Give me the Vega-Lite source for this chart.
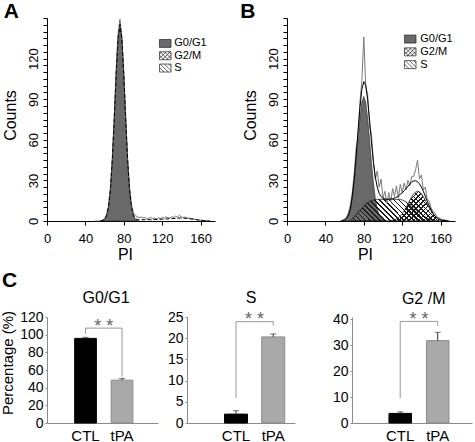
{
"$schema":"https://vega.github.io/schema/vega-lite/v6.json",
"autosize":{"type":"pad"},
"padding":{"left":0,"top":0,"right":2,"bottom":0},
"config":{"font":"Liberation Sans","view":{"stroke":null},
 "axis":{"grid":false,"labelColor":"#000","titleColor":"#000","titleFontWeight":"normal","domainColor":"#000","tickColor":"#000","labelOverlap":false,"labelSeparation":-500},
 "legend":{"labelFont":"Liberation Sans"}},
"datasets":{
"aRaw":[{"x":50,"c":0},{"x":52,"c":0},{"x":54,"c":0},{"x":56,"c":0.3},{"x":58,"c":0.8},{"x":60,"c":1.8},{"x":62,"c":4.5},{"x":64,"c":11},{"x":66,"c":24},{"x":68,"c":46},{"x":70,"c":76},{"x":72,"c":111},{"x":74,"c":138},{"x":76,"c":149},{"x":78,"c":136},{"x":80,"c":110},{"x":82,"c":77},{"x":84,"c":46},{"x":86,"c":25},{"x":88,"c":12},{"x":90,"c":6},{"x":92,"c":4},{"x":94,"c":3.2},{"x":96,"c":2.5},{"x":98,"c":3},{"x":100,"c":2.2},{"x":102,"c":2.6},{"x":104,"c":1.6},{"x":106,"c":2.1},{"x":108,"c":2.7},{"x":110,"c":1.8},{"x":112,"c":2.2},{"x":114,"c":1.5},{"x":116,"c":2.3},{"x":118,"c":1.8},{"x":120,"c":2.6},{"x":122,"c":2.1},{"x":124,"c":3.1},{"x":126,"c":2.4},{"x":128,"c":2.2},{"x":130,"c":3.2},{"x":132,"c":2.6},{"x":134,"c":3.6},{"x":136,"c":2.8},{"x":138,"c":4.2},{"x":140,"c":3.1},{"x":142,"c":2.6},{"x":144,"c":2.9},{"x":146,"c":2.1},{"x":148,"c":2.3},{"x":150,"c":1.6},{"x":152,"c":1.9},{"x":154,"c":1.2},{"x":156,"c":1},{"x":158,"c":0.8},{"x":160,"c":0.6},{"x":162,"c":0.5},{"x":164,"c":0.3},{"x":166,"c":0.2},{"x":168,"c":0}],
"aG1":[{"x":56,"c":0},{"x":58,"c":0.4},{"x":60,"c":1.3},{"x":62,"c":3.9},{"x":64,"c":10.1},{"x":66,"c":22.8},{"x":68,"c":44.4},{"x":70,"c":74.5},{"x":72,"c":107.8},{"x":74,"c":134.7},{"x":76,"c":145},{"x":78,"c":134.7},{"x":80,"c":107.8},{"x":82,"c":74.5},{"x":84,"c":44.4},{"x":86,"c":22.8},{"x":88,"c":10.1},{"x":90,"c":3.9},{"x":92,"c":1.3},{"x":94,"c":0.4},{"x":96,"c":0}],
"aFit":[{"x":56,"c":0},{"x":58,"c":0.4},{"x":60,"c":1.3},{"x":62,"c":3.9},{"x":64,"c":10.1},{"x":66,"c":22.8},{"x":68,"c":44.5},{"x":70,"c":74.6},{"x":72,"c":108},{"x":74,"c":135},{"x":76,"c":145.3},{"x":78,"c":135},{"x":80,"c":108.1},{"x":82,"c":74.8},{"x":84,"c":44.7},{"x":86,"c":23.1},{"x":88,"c":10.5},{"x":90,"c":4.4},{"x":92,"c":1.9},{"x":94,"c":1.1},{"x":96,"c":0.9},{"x":100,"c":0.9},{"x":110,"c":1.0},{"x":120,"c":1.3},{"x":130,"c":1.8},{"x":136,"c":2.1},{"x":140,"c":2.2},{"x":146,"c":1.9},{"x":150,"c":1.5},{"x":156,"c":0.9},{"x":160,"c":0.5},{"x":166,"c":0.1},{"x":170,"c":0}],
"bRaw":[{"x":56,"c":0},{"x":58,"c":0.6},{"x":60,"c":1.5},{"x":62,"c":3},{"x":64,"c":6},{"x":66,"c":12},{"x":68,"c":21},{"x":70,"c":35},{"x":72,"c":54},{"x":74,"c":62},{"x":76,"c":88},{"x":78,"c":104},{"x":80,"c":136},{"x":82,"c":99},{"x":84,"c":94},{"x":86,"c":70},{"x":88,"c":64},{"x":90,"c":44},{"x":92,"c":31},{"x":94,"c":37},{"x":96,"c":25},{"x":98,"c":31},{"x":100,"c":17},{"x":102,"c":22},{"x":104,"c":13},{"x":106,"c":21},{"x":108,"c":14},{"x":110,"c":24},{"x":112,"c":18},{"x":114,"c":26},{"x":116,"c":17},{"x":118,"c":27},{"x":120,"c":21},{"x":122,"c":28},{"x":124,"c":23},{"x":126,"c":30},{"x":128,"c":26},{"x":130,"c":33},{"x":132,"c":33},{"x":134,"c":38},{"x":136,"c":45},{"x":138,"c":31},{"x":140,"c":34},{"x":142,"c":23},{"x":144,"c":25},{"x":146,"c":16},{"x":148,"c":15},{"x":150,"c":10},{"x":152,"c":7},{"x":154,"c":6},{"x":156,"c":3},{"x":158,"c":2.5},{"x":160,"c":1.5},{"x":162,"c":1},{"x":164,"c":1},{"x":166,"c":0.5},{"x":168,"c":0.3},{"x":170,"c":0}],
"bG1":[{"x":56,"c":0},{"x":58,"c":0.3},{"x":60,"c":0.8},{"x":62,"c":2.0},{"x":64,"c":4.4},{"x":66,"c":9.0},{"x":68,"c":16.7},{"x":70,"c":28.2},{"x":72,"c":43.2},{"x":74,"c":60.1},{"x":76,"c":76.1},{"x":78,"c":87.8},{"x":80,"c":92},{"x":82,"c":87.8},{"x":84,"c":76.1},{"x":86,"c":60.1},{"x":88,"c":43.2},{"x":90,"c":28.2},{"x":92,"c":16.7},{"x":94,"c":9.0},{"x":96,"c":4.4},{"x":98,"c":2.0},{"x":100,"c":0.8},{"x":102,"c":0.3},{"x":104,"c":0}],
"bS":[{"x":66,"c":0},{"x":68,"c":1.5},{"x":70,"c":3},{"x":72,"c":4.8},{"x":74,"c":6.5},{"x":76,"c":8},{"x":78,"c":9.5},{"x":80,"c":11},{"x":82,"c":12.5},{"x":84,"c":13.5},{"x":86,"c":14.5},{"x":88,"c":15},{"x":90,"c":15.5},{"x":92,"c":15.8},{"x":94,"c":16},{"x":118,"c":16},{"x":120,"c":15.5},{"x":122,"c":15},{"x":124,"c":14},{"x":126,"c":13},{"x":128,"c":12},{"x":130,"c":11},{"x":132,"c":9.5},{"x":134,"c":8.2},{"x":136,"c":7},{"x":138,"c":6},{"x":140,"c":5},{"x":142,"c":4},{"x":144,"c":3},{"x":146,"c":2.2},{"x":148,"c":1.5},{"x":150,"c":1},{"x":152,"c":0.5},{"x":154,"c":0.2},{"x":156,"c":0}],
"bG2":[{"x":106,"c":0},{"x":108,"c":0.3},{"x":110,"c":0.5},{"x":112,"c":0.9},{"x":114,"c":1.5},{"x":116,"c":2.4},{"x":118,"c":3.7},{"x":120,"c":5.3},{"x":122,"c":7.4},{"x":124,"c":9.9},{"x":126,"c":12.6},{"x":128,"c":15.4},{"x":130,"c":18.0},{"x":132,"c":20.1},{"x":134,"c":21.5},{"x":136,"c":22},{"x":138,"c":21.5},{"x":140,"c":20.1},{"x":142,"c":18.0},{"x":144,"c":15.4},{"x":146,"c":12.6},{"x":148,"c":9.9},{"x":150,"c":7.4},{"x":152,"c":5.3},{"x":154,"c":3.7},{"x":156,"c":2.4},{"x":158,"c":1.5},{"x":160,"c":0.9},{"x":162,"c":0.5},{"x":164,"c":0.3},{"x":166,"c":0}],
"bFit":[{"x":56,"c":0},{"x":58,"c":0.3},{"x":60,"c":0.8},{"x":62,"c":2.0},{"x":64,"c":4.4},{"x":66,"c":9.0},{"x":68,"c":18.2},{"x":70,"c":31.2},{"x":72,"c":48.0},{"x":74,"c":66.6},{"x":76,"c":84.1},{"x":78,"c":97.3},{"x":80,"c":103},{"x":82,"c":100.3},{"x":84,"c":89.6},{"x":86,"c":74.6},{"x":88,"c":58.2},{"x":90,"c":43.7},{"x":92,"c":32.5},{"x":94,"c":25.0},{"x":96,"c":20.4},{"x":98,"c":18.0},{"x":100,"c":16.8},{"x":102,"c":16.3},{"x":104,"c":16},{"x":106,"c":16.2},{"x":108,"c":16.3},{"x":110,"c":16.5},{"x":112,"c":16.9},{"x":114,"c":17.5},{"x":116,"c":18.4},{"x":118,"c":19.7},{"x":120,"c":20.8},{"x":122,"c":22.4},{"x":124,"c":23.9},{"x":126,"c":25.6},{"x":128,"c":27.4},{"x":130,"c":29.0},{"x":132,"c":29.6},{"x":134,"c":29.7},{"x":136,"c":29},{"x":138,"c":27.5},{"x":140,"c":25.1},{"x":142,"c":22},{"x":144,"c":18.4},{"x":146,"c":14.8},{"x":148,"c":11.4},{"x":150,"c":8.4},{"x":152,"c":5.8},{"x":154,"c":3.9},{"x":156,"c":2.4},{"x":158,"c":1.5},{"x":160,"c":0.9},{"x":162,"c":0.5},{"x":164,"c":0.3},{"x":166,"c":0.15},{"x":168,"c":0}],
"phases":[{"phase":"G0/G1"},{"phase":"G2/M"},{"phase":"S"}],
"bars":[{"panel":"G0/G1","group":"CTL","value":95.8,"hi":97.0},{"panel":"G0/G1","group":"tPA","value":48.5,"hi":50.3},{"panel":"S","group":"CTL","value":2.1,"hi":2.9},{"panel":"S","group":"tPA","value":20.3,"hi":21.0},{"panel":"G2/M","group":"CTL","value":3.7,"hi":4.3},{"panel":"G2/M","group":"tPA","value":31.7,"hi":34.9}],
"brackets":[{"panel":"G0/G1","group":"CTL","y":100.8,"ord":1},{"panel":"G0/G1","group":"CTL","y":107.4,"ord":2},{"panel":"G0/G1","group":"tPA","y":107.4,"ord":3},{"panel":"G0/G1","group":"tPA","y":52.4,"ord":4},{"panel":"S","group":"CTL","y":5.9,"ord":1},{"panel":"S","group":"CTL","y":23.9,"ord":2},{"panel":"S","group":"tPA","y":23.9,"ord":3},{"panel":"S","group":"tPA","y":23.0,"ord":4},{"panel":"G2/M","group":"CTL","y":9.6,"ord":1},{"panel":"G2/M","group":"CTL","y":39.1,"ord":2},{"panel":"G2/M","group":"tPA","y":39.1,"ord":3},{"panel":"G2/M","group":"tPA","y":37.5,"ord":4}],
"stars":[{"panel":"G0/G1","group":"CTL","y":107.4,"t":"* *"},{"panel":"S","group":"CTL","y":23.9,"t":"* *"},{"panel":"G2/M","group":"CTL","y":39.1,"t":"* *"}]
},
"spacing":8,
"resolve":{"scale":{"fill":"independent","shape":"independent","stroke":"independent"}},
"vconcat":[
{"hconcat":[
 {"width":168,"height":203,
  "title":{"text":"A","anchor":"start","frame":"group","fontSize":21,"fontWeight":"bold","dx":-43.3,"offset":-21,"baseline":"alphabetic","color":"#000"},
  "layer":[
   {"data":{"name":"aG1"},"mark":{"type":"area","fill":"#696969","stroke":"#222","strokeWidth":0.6},
    "encoding":{
     "x":{"field":"x","type":"quantitative","scale":{"domain":[0,175],"nice":false,"zero":false},
      "axis":{"values":[0,10,20,30,40,50,60,70,80,90,100,110,120,130,140,150,160,170],"labelExpr":"datum.value % 40 === 0 ? datum.label : ''","labelOverlap":false,"labelFlush":false,"ticks":true,"tickSize":4,"tickWidth":1,"tickColor":"#000","labelPadding":7,"labelFontSize":13,"title":"PI","titleFontSize":16,"titleX":78,"titleY":38,"titleBaseline":"alphabetic","titleAlign":"center"}},
     "y":{"field":"c","type":"quantitative","scale":{"domain":[0,150],"nice":false},
      "axis":{"tickCount":30,"labelExpr":"datum.value % 30 === 0 && datum.value < 150 ? datum.label : ''","labelOverlap":false,"labelFlush":false,"labelAngle":-90,"labelAlign":"center","labelBaseline":"alphabetic","labelPadding":6,"labelFontSize":13,"ticks":true,"tickSize":4,"tickWidth":1,"tickColor":"#000","title":"Counts","titleFontSize":16,"titleX":-32,"titleY":97,"titleBaseline":"alphabetic","titleAlign":"center","titleAngle":-90}}}},
   {"data":{"name":"aRaw"},"mark":{"type":"line","color":"#505050","strokeWidth":0.8},"encoding":{"x":{"field":"x","type":"quantitative"},"y":{"field":"c","type":"quantitative"}}},
   {"data":{"name":"aFit"},"mark":{"type":"line","color":"#000","strokeWidth":1,"strokeDash":[4,2]},"encoding":{"x":{"field":"x","type":"quantitative"},"y":{"field":"c","type":"quantitative"}}},
   {"data":{"name":"phases"},"mark":{"type":"point","filled":true,"opacity":0},
    "encoding":{
     "fill":{"field":"phase","type":"nominal","scale":{"domain":["G0/G1","G2/M","S"],"range":["#696969","#ffffff","#ffffff"]},
      "legend":{"title":null,"orient":"none","legendX":112.25,"legendY":19.45,"symbolSize":110,"symbolStrokeWidth":0.7,"symbolOpacity":1,"labelFontSize":11,"labelOffset":3,"rowPadding":0.3,"padding":0,"labelColor":"#000","labelLimit":0}},
     "stroke":{"field":"phase","type":"nominal","scale":{"domain":["G0/G1","G2/M","S"],"range":["#222222","#222222","#222222"]},
      "legend":{"title":null,"orient":"none","legendX":112.25,"legendY":19.45,"symbolSize":110,"symbolStrokeWidth":0.7,"symbolOpacity":1,"labelFontSize":11,"labelOffset":3,"rowPadding":0.3,"padding":0,"labelColor":"#000","labelLimit":0}},
     "shape":{"field":"phase","type":"nominal","scale":{"domain":["G0/G1","G2/M","S"],"range":["M-1.1,-0.76L1.1,-0.76L1.1,0.76L-1.1,0.76Z","M-1.1,-0.76L1.1,-0.76L1.1,0.76L-1.1,0.76Z M-1.1,-0.11L-0.23,0.76 M-0.95,-0.76L0.57,0.76 M-0.15,-0.76L1.1,0.49 M0.65,-0.76L1.1,-0.31 M1.1,-0.11L0.23,0.76 M0.95,-0.76L-0.57,0.76 M0.15,-0.76L-1.1,0.49 M-0.65,-0.76L-1.1,-0.31","M-1.1,-0.76L1.1,-0.76L1.1,0.76L-1.1,0.76Z M-1.1,-0.11L-0.23,0.76 M-0.95,-0.76L0.57,0.76 M-0.15,-0.76L1.1,0.49 M0.65,-0.76L1.1,-0.31"]},
      "legend":{"title":null,"orient":"none","legendX":112.25,"legendY":19.45,"symbolSize":110,"symbolStrokeWidth":0.7,"symbolOpacity":1,"labelFontSize":11,"labelOffset":3,"rowPadding":0.3,"padding":0,"labelColor":"#000","labelLimit":0}}}}
  ]},
 {"width":168,"height":203,
  "title":{"text":"B","anchor":"start","frame":"group","fontSize":21,"fontWeight":"bold","dx":-46.7,"offset":-21,"baseline":"alphabetic","color":"#000"},
  "layer":[
   {"data":{"name":"bG1"},"mark":{"type":"area","fill":"#696969","stroke":"#222","strokeWidth":0.6},
    "encoding":{
     "x":{"field":"x","type":"quantitative","scale":{"domain":[0,175],"nice":false,"zero":false},
      "axis":{"values":[0,10,20,30,40,50,60,70,80,90,100,110,120,130,140,150,160,170],"labelExpr":"datum.value % 40 === 0 ? datum.label : ''","labelOverlap":false,"labelFlush":false,"ticks":true,"tickSize":4,"tickWidth":1,"tickColor":"#000","labelPadding":7,"labelFontSize":13,"title":"PI","titleFontSize":16,"titleX":78,"titleY":38,"titleBaseline":"alphabetic","titleAlign":"center"}},
     "y":{"field":"c","type":"quantitative","scale":{"domain":[0,150],"nice":false},
      "axis":{"tickCount":30,"labelExpr":"datum.value % 30 === 0 && datum.value < 150 ? datum.label : ''","labelOverlap":false,"labelFlush":false,"labelAngle":-90,"labelAlign":"center","labelBaseline":"alphabetic","labelPadding":6,"labelFontSize":13,"ticks":true,"tickSize":4,"tickWidth":1,"tickColor":"#000","title":"Counts","titleFontSize":16,"titleX":-32,"titleY":97,"titleBaseline":"alphabetic","titleAlign":"center","titleAngle":-90}}}},
   {"data":{"name":"bS"},"mark":{"type":"area","stroke":"#111","strokeWidth":0.7,"fill":{"gradient":"linear","x1":0,"y1":1,"x2":1.1765,"y2":0.7059,"stops":[
{"offset":0,"color":"#1a1a1a"},{"offset":0.015,"color":"#1a1a1a"},{"offset":0.015,"color":"rgba(0,0,0,0)"},{"offset":0.0455,"color":"rgba(0,0,0,0)"},
{"offset":0.0455,"color":"#1a1a1a"},{"offset":0.0605,"color":"#1a1a1a"},{"offset":0.0605,"color":"rgba(0,0,0,0)"},{"offset":0.0909,"color":"rgba(0,0,0,0)"},
{"offset":0.0909,"color":"#1a1a1a"},{"offset":0.1059,"color":"#1a1a1a"},{"offset":0.1059,"color":"rgba(0,0,0,0)"},{"offset":0.1364,"color":"rgba(0,0,0,0)"},
{"offset":0.1364,"color":"#1a1a1a"},{"offset":0.1514,"color":"#1a1a1a"},{"offset":0.1514,"color":"rgba(0,0,0,0)"},{"offset":0.1818,"color":"rgba(0,0,0,0)"},
{"offset":0.1818,"color":"#1a1a1a"},{"offset":0.1968,"color":"#1a1a1a"},{"offset":0.1968,"color":"rgba(0,0,0,0)"},{"offset":0.2273,"color":"rgba(0,0,0,0)"},
{"offset":0.2273,"color":"#1a1a1a"},{"offset":0.2423,"color":"#1a1a1a"},{"offset":0.2423,"color":"rgba(0,0,0,0)"},{"offset":0.2727,"color":"rgba(0,0,0,0)"},
{"offset":0.2727,"color":"#1a1a1a"},{"offset":0.2877,"color":"#1a1a1a"},{"offset":0.2877,"color":"rgba(0,0,0,0)"},{"offset":0.3182,"color":"rgba(0,0,0,0)"},
{"offset":0.3182,"color":"#1a1a1a"},{"offset":0.3332,"color":"#1a1a1a"},{"offset":0.3332,"color":"rgba(0,0,0,0)"},{"offset":0.3636,"color":"rgba(0,0,0,0)"},
{"offset":0.3636,"color":"#1a1a1a"},{"offset":0.3786,"color":"#1a1a1a"},{"offset":0.3786,"color":"rgba(0,0,0,0)"},{"offset":0.4091,"color":"rgba(0,0,0,0)"},
{"offset":0.4091,"color":"#1a1a1a"},{"offset":0.4241,"color":"#1a1a1a"},{"offset":0.4241,"color":"rgba(0,0,0,0)"},{"offset":0.4545,"color":"rgba(0,0,0,0)"},
{"offset":0.4545,"color":"#1a1a1a"},{"offset":0.4695,"color":"#1a1a1a"},{"offset":0.4695,"color":"rgba(0,0,0,0)"},{"offset":0.5,"color":"rgba(0,0,0,0)"},
{"offset":0.5,"color":"#1a1a1a"},{"offset":0.515,"color":"#1a1a1a"},{"offset":0.515,"color":"rgba(0,0,0,0)"},{"offset":0.5455,"color":"rgba(0,0,0,0)"},
{"offset":0.5455,"color":"#1a1a1a"},{"offset":0.5605,"color":"#1a1a1a"},{"offset":0.5605,"color":"rgba(0,0,0,0)"},{"offset":0.5909,"color":"rgba(0,0,0,0)"},
{"offset":0.5909,"color":"#1a1a1a"},{"offset":0.6059,"color":"#1a1a1a"},{"offset":0.6059,"color":"rgba(0,0,0,0)"},{"offset":0.6364,"color":"rgba(0,0,0,0)"},
{"offset":0.6364,"color":"#1a1a1a"},{"offset":0.6514,"color":"#1a1a1a"},{"offset":0.6514,"color":"rgba(0,0,0,0)"},{"offset":0.6818,"color":"rgba(0,0,0,0)"},
{"offset":0.6818,"color":"#1a1a1a"},{"offset":0.6968,"color":"#1a1a1a"},{"offset":0.6968,"color":"rgba(0,0,0,0)"},{"offset":0.7273,"color":"rgba(0,0,0,0)"},
{"offset":0.7273,"color":"#1a1a1a"},{"offset":0.7423,"color":"#1a1a1a"},{"offset":0.7423,"color":"rgba(0,0,0,0)"},{"offset":0.7727,"color":"rgba(0,0,0,0)"},
{"offset":0.7727,"color":"#1a1a1a"},{"offset":0.7877,"color":"#1a1a1a"},{"offset":0.7877,"color":"rgba(0,0,0,0)"},{"offset":0.8182,"color":"rgba(0,0,0,0)"},
{"offset":0.8182,"color":"#1a1a1a"},{"offset":0.8332,"color":"#1a1a1a"},{"offset":0.8332,"color":"rgba(0,0,0,0)"},{"offset":0.8636,"color":"rgba(0,0,0,0)"},
{"offset":0.8636,"color":"#1a1a1a"},{"offset":0.8786,"color":"#1a1a1a"},{"offset":0.8786,"color":"rgba(0,0,0,0)"},{"offset":0.9091,"color":"rgba(0,0,0,0)"},
{"offset":0.9091,"color":"#1a1a1a"},{"offset":0.9241,"color":"#1a1a1a"},{"offset":0.9241,"color":"rgba(0,0,0,0)"},{"offset":0.9545,"color":"rgba(0,0,0,0)"},
{"offset":0.9545,"color":"#1a1a1a"},{"offset":0.9695,"color":"#1a1a1a"},{"offset":0.9695,"color":"rgba(0,0,0,0)"},{"offset":1,"color":"rgba(0,0,0,0)"}]}},
    "encoding":{"x":{"field":"x","type":"quantitative"},"y":{"field":"c","type":"quantitative"}}},
   {"data":{"name":"bG2"},"mark":{"type":"area","stroke":"#111","strokeWidth":0.7,"fill":{"gradient":"linear","x1":0,"y1":1,"x2":1.1975,"y2":0.382,"stops":[
{"offset":0,"color":"#1a1a1a"},{"offset":0.018,"color":"#1a1a1a"},{"offset":0.018,"color":"rgba(0,0,0,0)"},{"offset":0.0556,"color":"rgba(0,0,0,0)"},
{"offset":0.0556,"color":"#1a1a1a"},{"offset":0.0736,"color":"#1a1a1a"},{"offset":0.0736,"color":"rgba(0,0,0,0)"},{"offset":0.1111,"color":"rgba(0,0,0,0)"},
{"offset":0.1111,"color":"#1a1a1a"},{"offset":0.1291,"color":"#1a1a1a"},{"offset":0.1291,"color":"rgba(0,0,0,0)"},{"offset":0.1667,"color":"rgba(0,0,0,0)"},
{"offset":0.1667,"color":"#1a1a1a"},{"offset":0.1847,"color":"#1a1a1a"},{"offset":0.1847,"color":"rgba(0,0,0,0)"},{"offset":0.2222,"color":"rgba(0,0,0,0)"},
{"offset":0.2222,"color":"#1a1a1a"},{"offset":0.2402,"color":"#1a1a1a"},{"offset":0.2402,"color":"rgba(0,0,0,0)"},{"offset":0.2778,"color":"rgba(0,0,0,0)"},
{"offset":0.2778,"color":"#1a1a1a"},{"offset":0.2958,"color":"#1a1a1a"},{"offset":0.2958,"color":"rgba(0,0,0,0)"},{"offset":0.3333,"color":"rgba(0,0,0,0)"},
{"offset":0.3333,"color":"#1a1a1a"},{"offset":0.3513,"color":"#1a1a1a"},{"offset":0.3513,"color":"rgba(0,0,0,0)"},{"offset":0.3889,"color":"rgba(0,0,0,0)"},
{"offset":0.3889,"color":"#1a1a1a"},{"offset":0.4069,"color":"#1a1a1a"},{"offset":0.4069,"color":"rgba(0,0,0,0)"},{"offset":0.4444,"color":"rgba(0,0,0,0)"},
{"offset":0.4444,"color":"#1a1a1a"},{"offset":0.4624,"color":"#1a1a1a"},{"offset":0.4624,"color":"rgba(0,0,0,0)"},{"offset":0.5,"color":"rgba(0,0,0,0)"},
{"offset":0.5,"color":"#1a1a1a"},{"offset":0.518,"color":"#1a1a1a"},{"offset":0.518,"color":"rgba(0,0,0,0)"},{"offset":0.5556,"color":"rgba(0,0,0,0)"},
{"offset":0.5556,"color":"#1a1a1a"},{"offset":0.5736,"color":"#1a1a1a"},{"offset":0.5736,"color":"rgba(0,0,0,0)"},{"offset":0.6111,"color":"rgba(0,0,0,0)"},
{"offset":0.6111,"color":"#1a1a1a"},{"offset":0.6291,"color":"#1a1a1a"},{"offset":0.6291,"color":"rgba(0,0,0,0)"},{"offset":0.6667,"color":"rgba(0,0,0,0)"},
{"offset":0.6667,"color":"#1a1a1a"},{"offset":0.6847,"color":"#1a1a1a"},{"offset":0.6847,"color":"rgba(0,0,0,0)"},{"offset":0.7222,"color":"rgba(0,0,0,0)"},
{"offset":0.7222,"color":"#1a1a1a"},{"offset":0.7402,"color":"#1a1a1a"},{"offset":0.7402,"color":"rgba(0,0,0,0)"},{"offset":0.7778,"color":"rgba(0,0,0,0)"},
{"offset":0.7778,"color":"#1a1a1a"},{"offset":0.7958,"color":"#1a1a1a"},{"offset":0.7958,"color":"rgba(0,0,0,0)"},{"offset":0.8333,"color":"rgba(0,0,0,0)"},
{"offset":0.8333,"color":"#1a1a1a"},{"offset":0.8513,"color":"#1a1a1a"},{"offset":0.8513,"color":"rgba(0,0,0,0)"},{"offset":0.8889,"color":"rgba(0,0,0,0)"},
{"offset":0.8889,"color":"#1a1a1a"},{"offset":0.9069,"color":"#1a1a1a"},{"offset":0.9069,"color":"rgba(0,0,0,0)"},{"offset":0.9444,"color":"rgba(0,0,0,0)"},
{"offset":0.9444,"color":"#1a1a1a"},{"offset":0.9624,"color":"#1a1a1a"},{"offset":0.9624,"color":"rgba(0,0,0,0)"},{"offset":1,"color":"rgba(0,0,0,0)"}]}},
    "encoding":{"x":{"field":"x","type":"quantitative"},"y":{"field":"c","type":"quantitative"}}},
   {"data":{"name":"bG2"},"mark":{"type":"area","fill":{"gradient":"linear","x1":0,"y1":0,"x2":1.1975,"y2":0.618,"stops":[
{"offset":0,"color":"#1a1a1a"},{"offset":0.018,"color":"#1a1a1a"},{"offset":0.018,"color":"rgba(0,0,0,0)"},{"offset":0.0556,"color":"rgba(0,0,0,0)"},
{"offset":0.0556,"color":"#1a1a1a"},{"offset":0.0736,"color":"#1a1a1a"},{"offset":0.0736,"color":"rgba(0,0,0,0)"},{"offset":0.1111,"color":"rgba(0,0,0,0)"},
{"offset":0.1111,"color":"#1a1a1a"},{"offset":0.1291,"color":"#1a1a1a"},{"offset":0.1291,"color":"rgba(0,0,0,0)"},{"offset":0.1667,"color":"rgba(0,0,0,0)"},
{"offset":0.1667,"color":"#1a1a1a"},{"offset":0.1847,"color":"#1a1a1a"},{"offset":0.1847,"color":"rgba(0,0,0,0)"},{"offset":0.2222,"color":"rgba(0,0,0,0)"},
{"offset":0.2222,"color":"#1a1a1a"},{"offset":0.2402,"color":"#1a1a1a"},{"offset":0.2402,"color":"rgba(0,0,0,0)"},{"offset":0.2778,"color":"rgba(0,0,0,0)"},
{"offset":0.2778,"color":"#1a1a1a"},{"offset":0.2958,"color":"#1a1a1a"},{"offset":0.2958,"color":"rgba(0,0,0,0)"},{"offset":0.3333,"color":"rgba(0,0,0,0)"},
{"offset":0.3333,"color":"#1a1a1a"},{"offset":0.3513,"color":"#1a1a1a"},{"offset":0.3513,"color":"rgba(0,0,0,0)"},{"offset":0.3889,"color":"rgba(0,0,0,0)"},
{"offset":0.3889,"color":"#1a1a1a"},{"offset":0.4069,"color":"#1a1a1a"},{"offset":0.4069,"color":"rgba(0,0,0,0)"},{"offset":0.4444,"color":"rgba(0,0,0,0)"},
{"offset":0.4444,"color":"#1a1a1a"},{"offset":0.4624,"color":"#1a1a1a"},{"offset":0.4624,"color":"rgba(0,0,0,0)"},{"offset":0.5,"color":"rgba(0,0,0,0)"},
{"offset":0.5,"color":"#1a1a1a"},{"offset":0.518,"color":"#1a1a1a"},{"offset":0.518,"color":"rgba(0,0,0,0)"},{"offset":0.5556,"color":"rgba(0,0,0,0)"},
{"offset":0.5556,"color":"#1a1a1a"},{"offset":0.5736,"color":"#1a1a1a"},{"offset":0.5736,"color":"rgba(0,0,0,0)"},{"offset":0.6111,"color":"rgba(0,0,0,0)"},
{"offset":0.6111,"color":"#1a1a1a"},{"offset":0.6291,"color":"#1a1a1a"},{"offset":0.6291,"color":"rgba(0,0,0,0)"},{"offset":0.6667,"color":"rgba(0,0,0,0)"},
{"offset":0.6667,"color":"#1a1a1a"},{"offset":0.6847,"color":"#1a1a1a"},{"offset":0.6847,"color":"rgba(0,0,0,0)"},{"offset":0.7222,"color":"rgba(0,0,0,0)"},
{"offset":0.7222,"color":"#1a1a1a"},{"offset":0.7402,"color":"#1a1a1a"},{"offset":0.7402,"color":"rgba(0,0,0,0)"},{"offset":0.7778,"color":"rgba(0,0,0,0)"},
{"offset":0.7778,"color":"#1a1a1a"},{"offset":0.7958,"color":"#1a1a1a"},{"offset":0.7958,"color":"rgba(0,0,0,0)"},{"offset":0.8333,"color":"rgba(0,0,0,0)"},
{"offset":0.8333,"color":"#1a1a1a"},{"offset":0.8513,"color":"#1a1a1a"},{"offset":0.8513,"color":"rgba(0,0,0,0)"},{"offset":0.8889,"color":"rgba(0,0,0,0)"},
{"offset":0.8889,"color":"#1a1a1a"},{"offset":0.9069,"color":"#1a1a1a"},{"offset":0.9069,"color":"rgba(0,0,0,0)"},{"offset":0.9444,"color":"rgba(0,0,0,0)"},
{"offset":0.9444,"color":"#1a1a1a"},{"offset":0.9624,"color":"#1a1a1a"},{"offset":0.9624,"color":"rgba(0,0,0,0)"},{"offset":1,"color":"rgba(0,0,0,0)"}]}},
    "encoding":{"x":{"field":"x","type":"quantitative"},"y":{"field":"c","type":"quantitative"}}},
   {"data":{"name":"bRaw"},"mark":{"type":"line","color":"#7a7a7a","strokeWidth":1},"encoding":{"x":{"field":"x","type":"quantitative"},"y":{"field":"c","type":"quantitative"}}},
   {"data":{"name":"bFit"},"mark":{"type":"line","color":"#000","strokeWidth":1},"encoding":{"x":{"field":"x","type":"quantitative"},"y":{"field":"c","type":"quantitative"}}},
   {"data":{"name":"phases"},"mark":{"type":"point","filled":true,"opacity":0},
    "encoding":{
     "fill":{"field":"phase","type":"nominal","scale":{"domain":["G0/G1","G2/M","S"],"range":["#696969","#ffffff","#ffffff"]},
      "legend":{"title":null,"orient":"none","legendX":117.25,"legendY":15.05,"symbolSize":110,"symbolStrokeWidth":0.7,"symbolOpacity":1,"labelFontSize":11,"labelOffset":4,"rowPadding":0.8,"padding":0,"labelColor":"#000","labelLimit":0}},
     "stroke":{"field":"phase","type":"nominal","scale":{"domain":["G0/G1","G2/M","S"],"range":["#222222","#222222","#222222"]},
      "legend":{"title":null,"orient":"none","legendX":117.25,"legendY":15.05,"symbolSize":110,"symbolStrokeWidth":0.7,"symbolOpacity":1,"labelFontSize":11,"labelOffset":4,"rowPadding":0.8,"padding":0,"labelColor":"#000","labelLimit":0}},
     "shape":{"field":"phase","type":"nominal","scale":{"domain":["G0/G1","G2/M","S"],"range":["M-1.1,-0.76L1.1,-0.76L1.1,0.76L-1.1,0.76Z","M-1.1,-0.76L1.1,-0.76L1.1,0.76L-1.1,0.76Z M-1.1,-0.11L-0.23,0.76 M-0.95,-0.76L0.57,0.76 M-0.15,-0.76L1.1,0.49 M0.65,-0.76L1.1,-0.31 M1.1,-0.11L0.23,0.76 M0.95,-0.76L-0.57,0.76 M0.15,-0.76L-1.1,0.49 M-0.65,-0.76L-1.1,-0.31","M-1.1,-0.76L1.1,-0.76L1.1,0.76L-1.1,0.76Z M-1.1,-0.11L-0.23,0.76 M-0.95,-0.76L0.57,0.76 M-0.15,-0.76L1.1,0.49 M0.65,-0.76L1.1,-0.31"]},
      "legend":{"title":null,"orient":"none","legendX":117.25,"legendY":15.05,"symbolSize":110,"symbolStrokeWidth":0.7,"symbolOpacity":1,"labelFontSize":11,"labelOffset":4,"rowPadding":0.8,"padding":0,"labelColor":"#000","labelLimit":0}}}}
  ]}
 ],
 "spacing":72,"bounds":"flush",
 "resolve":{"scale":{"fill":"independent","shape":"independent","stroke":"independent"}}},
{"title":{"text":"C","anchor":"start","frame":"group","fontSize":21,"fontWeight":"bold","dx":-45,"offset":-18,"baseline":"alphabetic","color":"#000"},
 "hconcat":[
  {"width":111,"height":106,
   "title":{"text":"G0/G1","fontSize":16,"fontWeight":"normal","offset":-9,"baseline":"alphabetic","anchor":"middle","frame":"group","dx":3.5,"color":"#000"},
   "layer":[
    {"data":{"name":"bars"},"transform":[{"filter":"datum.panel === 'G0/G1'"}],"mark":{"type":"bar","strokeWidth":1},
     "encoding":{
      "x":{"field":"group","type":"nominal","scale":{"domain":["CTL","tPA"],"paddingInner":0.405,"paddingOuter":0.723,"align":0.524},"axis":{"title":null,"labelAngle":0,"labelFontSize":15,"labelPadding":5,"ticks":false,"domainColor":"#8c8c8c","labelOverlap":false}},
      "y":{"field":"value","type":"quantitative","stack":null,"scale":{"domain":[0,120],"nice":false},"axis":{"tickCount":6,"labelOverlap":false,"labelFlush":false,"ticks":true,"tickSize":2,"tickColor":"#8c8c8c","labelPadding":2,"labelFontSize":14,"domainColor":"#8c8c8c","title":"Percentage (%)","titleFontSize":15,"titleX":-34.3,"titleY":45.5,"titleBaseline":"alphabetic","titleAlign":"center","titleAngle":-90}},
      "fill":{"field":"group","type":"nominal","scale":{"domain":["CTL","tPA"],"range":["#000000","#a9a9a9"]},"legend":null},
      "stroke":{"field":"group","type":"nominal","scale":{"domain":["CTL","tPA"],"range":["#000000","#8a8a8a"]},"legend":null}}},
    {"data":{"name":"bars"},"transform":[{"filter":"datum.panel === 'G0/G1'"}],"mark":{"type":"rule","color":"#333","strokeWidth":1},
     "encoding":{"x":{"field":"group","type":"nominal"},"y":{"field":"value","type":"quantitative"},"y2":{"field":"hi"}}},
    {"data":{"name":"bars"},"transform":[{"filter":"datum.panel === 'G0/G1'"}],"mark":{"type":"tick","color":"#333","size":6,"thickness":1},
     "encoding":{"x":{"field":"group","type":"nominal"},"y":{"field":"hi","type":"quantitative"}}},
    {"data":{"name":"brackets"},"transform":[{"filter":"datum.panel === 'G0/G1'"}],"mark":{"type":"line","color":"#999","strokeWidth":1},
     "encoding":{"x":{"field":"group","type":"nominal"},"y":{"field":"y","type":"quantitative"},"order":{"field":"ord","type":"quantitative"}}},
    {"data":{"name":"stars"},"transform":[{"filter":"datum.panel === 'G0/G1'"}],"mark":{"type":"text","fontSize":18,"color":"#666","dx":18.25,"dy":3.5,"baseline":"alphabetic","align":"center"},
     "encoding":{"x":{"field":"group","type":"nominal"},"y":{"field":"y","type":"quantitative"},"text":{"field":"t"}}}
   ]},
  {"hconcat":[
   {"width":108,"height":106,
    "title":{"text":"S","fontSize":16,"fontWeight":"normal","offset":-9,"baseline":"alphabetic","anchor":"middle","frame":"group","dx":10,"color":"#000"},
    "layer":[
     {"data":{"name":"bars"},"transform":[{"filter":"datum.panel === 'S'"}],"mark":{"type":"bar","strokeWidth":1},
      "encoding":{
       "x":{"field":"group","type":"nominal","scale":{"domain":["CTL","tPA"],"paddingInner":0.382,"paddingOuter":0.642,"align":0.785},"axis":{"title":null,"labelAngle":0,"labelFontSize":15,"labelPadding":5,"ticks":false,"domainColor":"#8c8c8c","labelOverlap":false}},
       "y":{"field":"value","type":"quantitative","stack":null,"scale":{"domain":[0,25],"nice":false},"axis":{"tickCount":5,"labelOverlap":false,"labelFlush":false,"ticks":true,"tickSize":2,"tickColor":"#8c8c8c","labelPadding":2,"labelFontSize":14,"domainColor":"#8c8c8c","title":null}},
       "fill":{"field":"group","type":"nominal","scale":{"domain":["CTL","tPA"],"range":["#000000","#a9a9a9"]},"legend":null},
       "stroke":{"field":"group","type":"nominal","scale":{"domain":["CTL","tPA"],"range":["#000000","#8a8a8a"]},"legend":null}}},
     {"data":{"name":"bars"},"transform":[{"filter":"datum.panel === 'S'"}],"mark":{"type":"rule","color":"#333","strokeWidth":1},
      "encoding":{"x":{"field":"group","type":"nominal"},"y":{"field":"value","type":"quantitative"},"y2":{"field":"hi"}}},
     {"data":{"name":"bars"},"transform":[{"filter":"datum.panel === 'S'"}],"mark":{"type":"tick","color":"#333","size":6,"thickness":1},
      "encoding":{"x":{"field":"group","type":"nominal"},"y":{"field":"hi","type":"quantitative"}}},
     {"data":{"name":"brackets"},"transform":[{"filter":"datum.panel === 'S'"}],"mark":{"type":"line","color":"#999","strokeWidth":1},
      "encoding":{"x":{"field":"group","type":"nominal"},"y":{"field":"y","type":"quantitative"},"order":{"field":"ord","type":"quantitative"}}},
     {"data":{"name":"stars"},"transform":[{"filter":"datum.panel === 'S'"}],"mark":{"type":"text","fontSize":18,"color":"#666","dx":18.6,"dy":3.5,"baseline":"alphabetic","align":"center"},
      "encoding":{"x":{"field":"group","type":"nominal"},"y":{"field":"y","type":"quantitative"},"text":{"field":"t"}}}
    ]},
   {"width":120,"height":106,
    "title":{"text":"G2 /M","fontSize":16,"fontWeight":"normal","offset":-9,"baseline":"alphabetic","anchor":"middle","frame":"group","dx":11.7,"color":"#000"},
    "layer":[
     {"data":{"name":"bars"},"transform":[{"filter":"datum.panel === 'G2/M'"}],"mark":{"type":"bar","strokeWidth":1},
      "encoding":{
       "x":{"field":"group","type":"nominal","scale":{"domain":["CTL","tPA"],"paddingInner":0.4,"paddingOuter":0.8,"align":0.616},"axis":{"title":null,"labelAngle":0,"labelFontSize":15,"labelPadding":5,"ticks":false,"domainColor":"#8c8c8c","labelOverlap":false}},
       "y":{"field":"value","type":"quantitative","stack":null,"scale":{"domain":[0,40.8],"nice":false},"axis":{"tickCount":4,"labelOverlap":false,"labelFlush":false,"ticks":true,"tickSize":2,"tickColor":"#8c8c8c","labelPadding":2,"labelFontSize":14,"domainColor":"#8c8c8c","title":null}},
       "fill":{"field":"group","type":"nominal","scale":{"domain":["CTL","tPA"],"range":["#000000","#a9a9a9"]},"legend":null},
       "stroke":{"field":"group","type":"nominal","scale":{"domain":["CTL","tPA"],"range":["#000000","#8a8a8a"]},"legend":null}}},
     {"data":{"name":"bars"},"transform":[{"filter":"datum.panel === 'G2/M'"}],"mark":{"type":"rule","color":"#333","strokeWidth":1},
      "encoding":{"x":{"field":"group","type":"nominal"},"y":{"field":"value","type":"quantitative"},"y2":{"field":"hi"}}},
     {"data":{"name":"bars"},"transform":[{"filter":"datum.panel === 'G2/M'"}],"mark":{"type":"tick","color":"#333","size":6,"thickness":1},
      "encoding":{"x":{"field":"group","type":"nominal"},"y":{"field":"hi","type":"quantitative"}}},
     {"data":{"name":"brackets"},"transform":[{"filter":"datum.panel === 'G2/M'"}],"mark":{"type":"line","color":"#999","strokeWidth":1},
      "encoding":{"x":{"field":"group","type":"nominal"},"y":{"field":"y","type":"quantitative"},"order":{"field":"ord","type":"quantitative"}}},
     {"data":{"name":"stars"},"transform":[{"filter":"datum.panel === 'G2/M'"}],"mark":{"type":"text","fontSize":18,"color":"#666","dx":18.75,"dy":3.5,"baseline":"alphabetic","align":"center"},
      "encoding":{"x":{"field":"group","type":"nominal"},"y":{"field":"y","type":"quantitative"},"text":{"field":"t"}}}
    ]}
  ],"spacing":57,"bounds":"flush"}
 ],"spacing":29,"bounds":"flush"}
]
}
